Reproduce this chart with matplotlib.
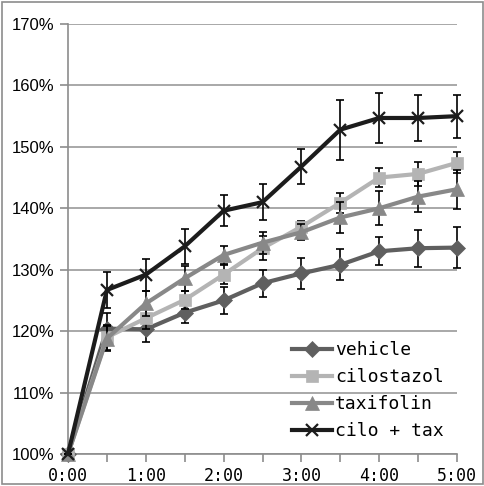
import matplotlib
matplotlib.use('Agg')
from matplotlib import pyplot as plt
from matplotlib.patches import Rectangle

# time points (hours)
hours = [0, 0.5, 1, 1.5, 2, 2.5, 3, 3.5, 4, 4.5, 5]
hour_labels = ['0:00', '1:00', '2:00', '3:00', '4:00', '5:00']
pct_ticks = [100, 110, 120, 130, 140, 150, 160, 170]

vehicle = [100, 120.4, 120.3, 123.0, 125.0, 127.8, 129.4, 130.8, 133.0, 133.5, 133.6]
vehicle_err = [0, 2.5, 2.0, 1.7, 2.2, 2.2, 2.5, 2.5, 2.3, 3.0, 3.4]
cilostazol = [100, 119.0, 122.1, 125.1, 129.2, 133.5, 137.0, 140.9, 145.0, 145.6, 147.4]
cilostazol_err = [0, 2.0, 1.8, 1.5, 1.6, 2.0, 1.0, 1.6, 1.6, 1.9, 1.7]
taxifolin = [100, 118.8, 124.5, 128.6, 132.4, 134.4, 136.1, 138.5, 140.0, 141.9, 143.1]
taxifolin_err = [0, 2.0, 2.0, 2.0, 1.5, 1.8, 1.3, 2.6, 2.8, 2.5, 3.2]
cilo_tax = [100, 126.7, 129.2, 133.8, 139.6, 141.0, 146.8, 152.8, 154.7, 154.7, 155.0]
cilo_tax_err = [0, 3.0, 2.6, 2.9, 2.5, 2.9, 2.8, 4.9, 4.1, 3.7, 3.5]

fig = plt.figure(figsize=(4.85, 4.86), dpi=100)
ax = fig.add_axes([68 / 485, 1 - 454 / 486, 389 / 485, 430 / 486])

# outer frame
fig.patches.append(Rectangle((0.004, 0.004), 0.992, 0.992, transform=fig.transFigure,
                             fill=False, edgecolor='#8c8c8c', lw=1.2))

series = [
    ('vehicle', vehicle, vehicle_err, '#5f5f5f', 'D', 8),
    ('cilostazol', cilostazol, cilostazol_err, '#b4b4b4', 's', 9),
    ('taxifolin', taxifolin, taxifolin_err, '#888888', '^', 9.5),
    ('cilo + tax', cilo_tax, cilo_tax_err, '#1c1c1c', 'x', 9),
]

for i, (name, vals, err, col, mk, ms) in enumerate(series):
    ax.errorbar(hours, vals, yerr=err, fmt='none', ecolor='black', elinewidth=1.2,
                capsize=3, capthick=1.2, zorder=3 + i, clip_on=False)
    ax.plot(hours, vals, color=col, lw=3, marker=mk, markersize=ms,
            markeredgewidth=1.6 if mk == 'x' else 0.5, markeredgecolor=col,
            label=name, zorder=3 + i, clip_on=False)

ax.set_xlim(0, 5)
ax.set_ylim(100, 170)
ax.set_yticks(pct_ticks)
ax.set_yticklabels([f'{p}%' for p in pct_ticks], fontfamily='Liberation Sans', fontsize=12)
ax.set_xticks(range(6))
ax.set_xticks(hours, minor=True)
ax.set_xticklabels(hour_labels, fontfamily='DejaVu Sans Mono', fontsize=12)

ax.grid(axis='y', color='#9a9a9a', lw=1.2)
ax.set_axisbelow(True)
for s in ['top', 'right']:
    ax.spines[s].set_visible(False)
for s in ['left', 'bottom']:
    ax.spines[s].set_color('#8c8c8c')
    ax.spines[s].set_linewidth(1.2)
ax.tick_params(axis='y', length=6, width=1.2, color='#8c8c8c', pad=4)
ax.tick_params(axis='x', which='both', length=6, width=1.2, color='#8c8c8c', pad=3)

ax.legend(loc='upper left', bbox_to_anchor=(292 / 485, 1 - 341 / 486),
          bbox_transform=fig.transFigure, frameon=False,
          prop={'family': 'DejaVu Sans Mono', 'size': 13},
          handlelength=2.2, handletextpad=0.2, labelspacing=0.5, borderpad=0,
          borderaxespad=0)

fig.savefig('out.png', dpi=100)
